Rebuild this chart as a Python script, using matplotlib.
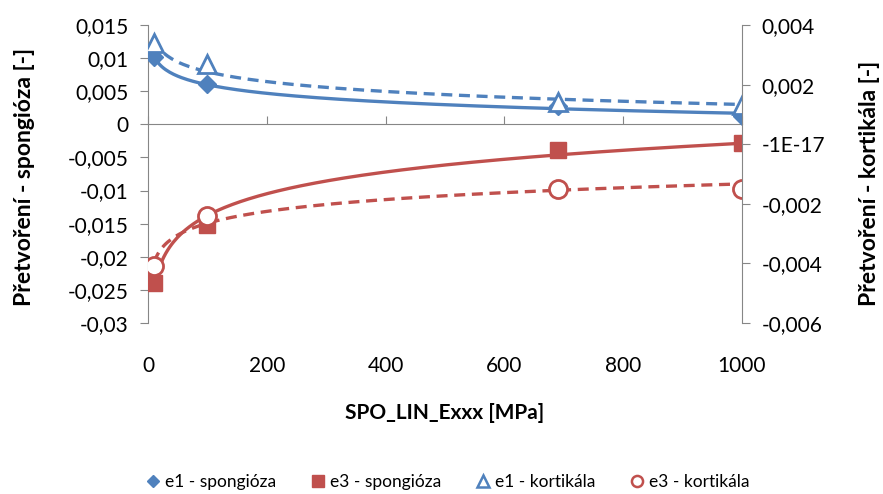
import numpy as np
import matplotlib.pyplot as plt
from matplotlib.lines import Line2D

plt.rcParams['font.family'] = ['Lato', 'DejaVu Sans']

# modul pruznosti spongiozy [MPa]
modul = [10, 100, 690, 1000]

# pretvoreni - spongioza (leva osa)
e1_spongioza = [0.0102, 0.0061, 0.0028, 0.0012]
e3_spongioza = [-0.0240, -0.0152, -0.0039, -0.0028]

# pretvoreni - kortikala (prava osa)
e1_kortikala = [0.0034, 0.0027, 0.0014, 0.0013]
e3_kortikala = [-0.0041, -0.0024, -0.0015, -0.0015]

x_ticks = [0, 200, 400, 600, 800, 1000]
left_ticks = [-0.03, -0.025, -0.02, -0.015, -0.01, -0.005, 0, 0.005, 0.01, 0.015]
left_labels = ['-0,03', '-0,025', '-0,02', '-0,015', '-0,01', '-0,005',
               '0', '0,005', '0,01', '0,015']
right_ticks = [-0.006, -0.004, -0.002, 0, 0.002, 0.004]
right_labels = ['-0,006', '-0,004', '-0,002', '-1E-17', '0,002', '0,004']

BLUE = '#4F81BD'
RED = '#C0504D'
AXIS = '#868686'
FS = 15


def log_trend(x, y):
    # logaritmicka spojnice trendu y = k*ln(x) + q
    k, q = np.polyfit(np.log(x), y, 1)
    xs = np.linspace(min(x), max(x), 300)
    return xs, k * np.log(xs) + q


fig = plt.figure(figsize=(8.83, 4.94), dpi=100)
ax = fig.add_axes([148 / 883, 1 - 323 / 494, 594 / 883, 298 / 494])
ax2 = ax.twinx()

ax.set_xlim(0, 1000)
ax.set_ylim(-0.03, 0.015)
ax2.set_ylim(-0.006, 0.004)

# --- spongioza, leva osa
xs, ys = log_trend(modul, e1_spongioza)
ax.plot(xs, ys, color=BLUE, lw=2.4, zorder=3)
xs, ys = log_trend(modul, e3_spongioza)
ax.plot(xs, ys, color=RED, lw=2.4, zorder=3)
ax.plot(modul, e1_spongioza, ls='none', marker='D', ms=9, color=BLUE, zorder=4)
ax.plot(modul, e3_spongioza, ls='none', marker='s', ms=12, color=RED, zorder=4)

# --- kortikala, prava osa
xs, ys = log_trend(modul, e1_kortikala)
ax2.plot(xs, ys, color=BLUE, lw=2.4, dashes=(3.3, 2))
xs, ys = log_trend(modul, e3_kortikala)
ax2.plot(xs, ys, color=RED, lw=2.4, dashes=(3.3, 2))
ax2.plot(modul, e1_kortikala, ls='none', marker='^', ms=13, mfc='white',
         mec=BLUE, mew=2)
ax2.plot(modul, e3_kortikala, ls='none', marker='o', ms=13, mfc='white',
         mec=RED, mew=2)

# osy
for a in (ax, ax2):
    a.spines['top'].set_visible(False)
    a.spines['bottom'].set_visible(False)
ax.spines['right'].set_visible(False)
ax2.spines['left'].set_visible(False)
ax.spines['left'].set_color(AXIS)
ax2.spines['right'].set_color(AXIS)

ax.set_yticks(left_ticks)
ax.set_yticklabels(left_labels)
ax.tick_params(axis='y', direction='out', length=6, color=AXIS, labelsize=FS, pad=8)
ax2.set_yticks(right_ticks)
ax2.set_yticklabels(right_labels)
ax2.tick_params(axis='y', direction='out', length=6, color=AXIS, labelsize=FS, pad=8)

# popisky osy x dole, bez carek
ax.set_xticks(x_ticks)
ax.tick_params(axis='x', length=0, labelsize=FS, pad=24)

# vodorovna osa v nule
y0 = (0 - ax.get_ylim()[0]) / (ax.get_ylim()[1] - ax.get_ylim()[0])
zero_axis = ax.secondary_xaxis(y0)
zero_axis.set_xticks(x_ticks)
zero_axis.set_xticklabels([''] * len(x_ticks))
zero_axis.tick_params(axis='x', direction='out', length=6, color=AXIS)
for sp in zero_axis.spines.values():
    sp.set_color(AXIS)

ax.set_xlabel('SPO_LIN_Exxx [MPa]', fontsize=15, fontweight='bold')
ax.xaxis.set_label_coords(0.5, (323 - 413) / 298)
ax.xaxis.label.set_va('center')

ax.set_ylabel('Přetvoření - spongióza [-]', fontsize=16.5, fontweight='bold')
ax.yaxis.set_label_coords((25 - 148) / 594, 0.49)
ax.yaxis.label.set_va('center')
ax2.set_ylabel('Přetvoření - kortikála [-]', fontsize=16.5, fontweight='bold')
ax2.yaxis.set_label_coords((870 - 148) / 594, 0.47)
ax2.yaxis.label.set_va('center')

handles = [
    Line2D([], [], ls='none', marker='D', ms=6, color=BLUE),
    Line2D([], [], ls='none', marker='s', ms=8, color=RED),
    Line2D([], [], ls='none', marker='^', ms=8, mfc='white', mec=BLUE, mew=1.8),
    Line2D([], [], ls='none', marker='o', ms=8, mfc='white', mec=RED, mew=1.8),
]
labels = ['e1 - spongióza', 'e3 - spongióza', 'e1 - kortikála', 'e3 - kortikála']
fig.legend(handles, labels, loc='center', bbox_to_anchor=(448 / 883, 1 - 482 / 494),
           ncol=4, frameon=False, fontsize=12.5, handlelength=0.8,
           handletextpad=0.3, columnspacing=2.0)

fig.savefig('out.png', dpi=100)
